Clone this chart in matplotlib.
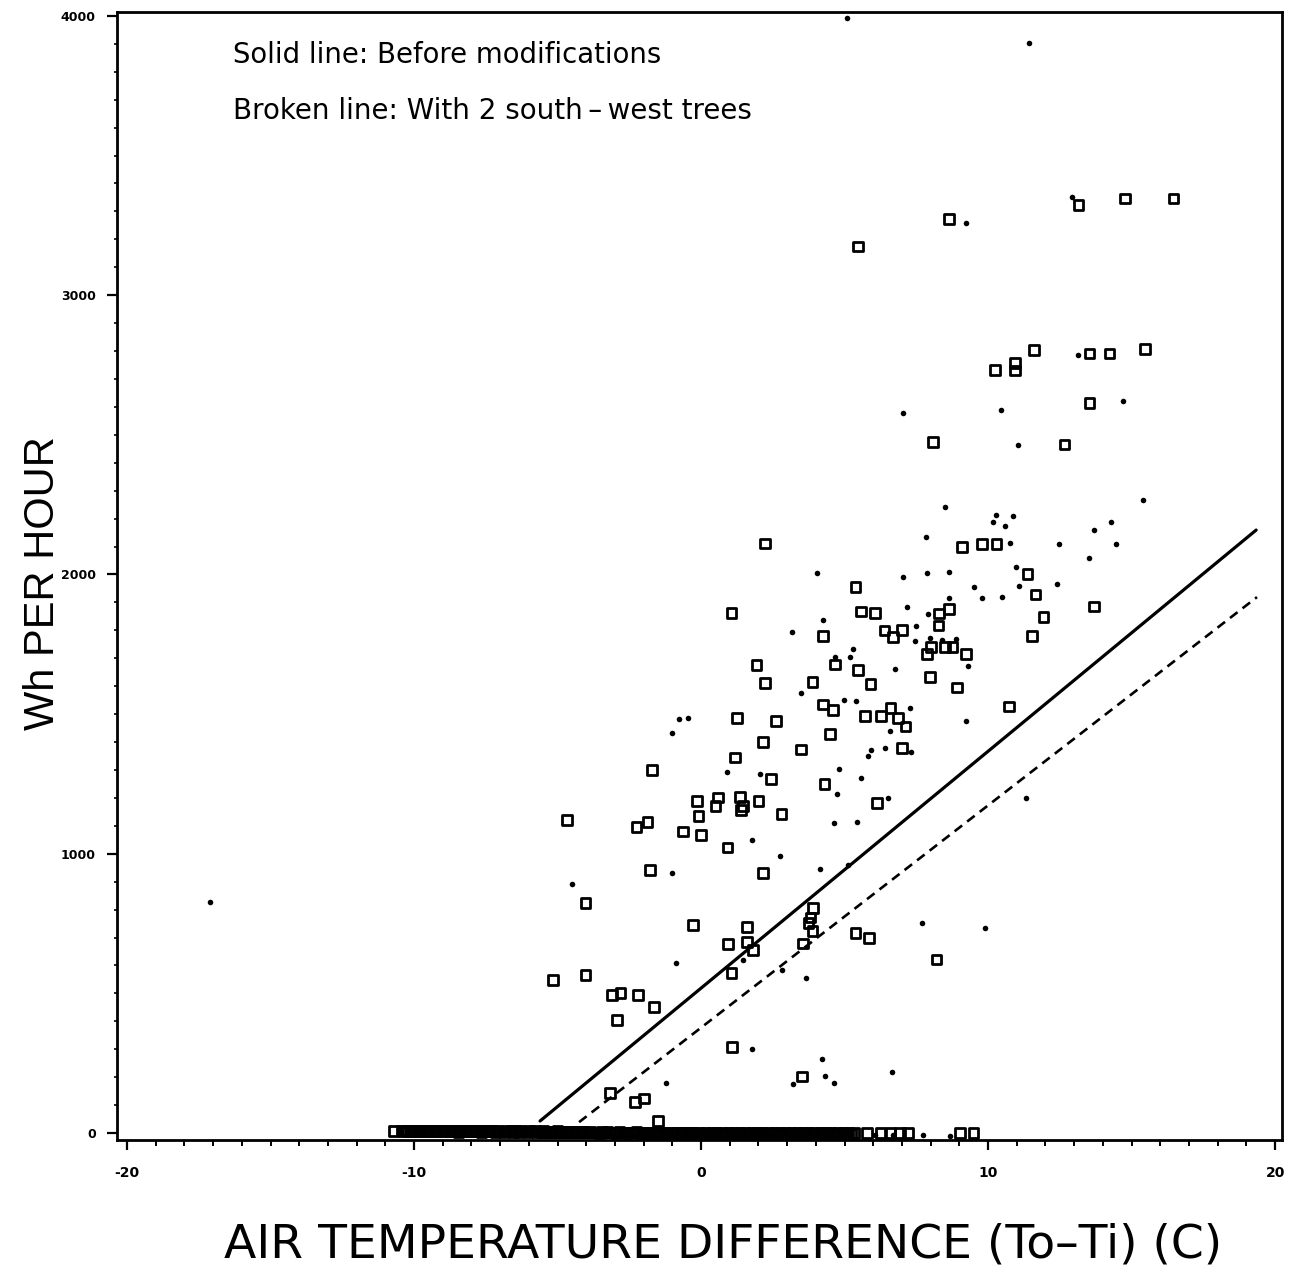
import matplotlib
matplotlib.use("Agg")
import matplotlib.pyplot as plt
from matplotlib.markers import MarkerStyle

# ---------------- data ----------------
# Open squares: before modifications
sq_x = [16.45, 14.77, 13.14, 8.64, 5.47, 15.47, 11.60, 13.52, 14.22, 10.24,
        10.94, 10.94, 13.52, 8.08, 12.65, 2.23, 9.09, 9.79, 10.28, 11.36,
        11.64, 11.92, 11.53, 13.69, 10.73,
        5.37, 1.05, 5.57, 6.06, 8.64, 8.29, 8.26, 6.38, 6.69, 7.00,
        4.25, 8.01, 7.87, 8.50, 8.75, 9.23, 1.92, 4.67, 5.47, 5.89,
        3.87, 2.23, 7.98, 8.92, 1.25, 2.61, 4.25, 4.60, 5.71, 6.27,
        6.59, 6.86, 7.11, 4.49, 2.16, 3.48, 7.00, 1.18, -1.71, 2.44,
        4.29, 6.13, -0.14, 0.59, 0.49, 1.36, 1.46, 1.39, 1.99, 2.79,
        -0.10, -4.67, -2.26, -1.88, -0.63, 0.00, 0.91, -1.78, 2.16,
        -4.04, -0.28, 1.60, 0.94, 1.60, 1.81, 1.05, 3.90, 3.80, 3.73,
        3.87, 3.55, 5.37, 5.85, 8.19, -5.16, -4.04, -3.10, -2.82, -2.20,
        -1.64, -2.93, 1.08, 3.52, -3.17, -2.30, -1.99, -1.50,
        -10.70, 5.78, 6.24, 6.59, 6.93, 7.21, 9.02, 9.48]
sq_y = [3345, 3345, 3323, 3273, 3173, 2807, 2804, 2790, 2790, 2732,
        2757, 2729, 2614, 2474, 2464, 2110, 2098, 2109, 2109, 2002,
        1927, 1848, 1780, 1884, 1526,
        1955, 1862, 1866, 1862, 1876, 1859, 1816, 1798, 1776, 1801,
        1780, 1740, 1715, 1740, 1740, 1715, 1676, 1679, 1658, 1608,
        1615, 1611, 1633, 1594, 1486, 1475, 1533, 1515, 1493, 1493,
        1522, 1486, 1457, 1429, 1400, 1372, 1379, 1346, 1300, 1268,
        1250, 1182, 1189, 1200, 1171, 1203, 1171, 1157, 1189, 1142,
        1135, 1121, 1096, 1114, 1081, 1067, 1021, 942, 931,
        824, 745, 738, 677, 684, 655, 573, 806, 773, 752,
        723, 680, 716, 698, 620, 548, 566, 494, 501, 494,
        451, 405, 308, 201, 143, 111, 125, 43,
        7, 0, 0, 0, 0, 0, 0, 0]

# Open squares piled up on the zero line (saturated black band)
band_x = [-10.45, -10.37, -10.29, -10.21, -10.13, -10.05, -9.97, -9.89, -9.81, -9.73,
          -9.65, -9.57, -9.49, -9.41, -9.33, -9.25, -9.17, -9.09, -9.01, -8.93,
          -8.85, -8.77, -8.69, -8.61, -8.53, -8.45, -8.37, -8.29, -8.21, -8.13,
          -8.05, -7.97, -7.89, -7.81, -7.73, -7.65, -7.57, -7.49, -7.41, -7.33,
          -7.25, -7.17, -7.09, -7.01, -6.93, -6.85, -6.77, -6.69, -6.61, -6.53,
          -6.45, -6.37, -6.29, -6.21, -6.13, -6.05, -5.97, -5.89, -5.81, -5.73,
          -5.65, -5.57, -5.49, -5.41, -5.33, -5.25, -5.17, -5.09, -5.01, -4.93,
          -4.85, -4.77, -4.69, -4.61, -4.53, -4.45, -4.37, -4.29, -4.21, -4.13,
          -4.05, -3.95, -3.85, -3.75, -3.65, -3.55, -3.45, -3.35, -3.25, -3.15,
          -3.05, -2.95, -2.85, -2.75, -2.65, -2.55, -2.45, -2.35, -2.25, -2.15,
          -2.05, -1.95, -1.85, -1.75, -1.65, -1.55, -1.45, -1.35, -1.25, -1.15,
          -1.05, -0.95, -0.85, -0.75, -0.65, -0.55, -0.45, -0.35, -0.25, -0.15,
          -0.05, 0.05, 0.15, 0.25, 0.35, 0.45, 0.55, 0.65, 0.75, 0.85,
          0.95, 1.05, 1.15, 1.25, 1.35, 1.45, 1.55, 1.65, 1.75, 1.85,
          1.95, 2.05, 2.15, 2.25, 2.35, 2.45, 2.55, 2.65, 2.75, 2.85,
          2.95, 3.05, 3.15, 3.25, 3.35, 3.45, 3.55, 3.65, 3.75, 3.85,
          3.95, 4.05, 4.15, 4.25, 4.35, 4.45, 4.55, 4.65, 4.75, 4.85,
          4.95, 5.05, 5.15, 5.25, 5.35]
band_y = [9, 6, 10, 7, 8, 5, 9, 7, 10, 6,
          9, 6, 10, 7, 8, 5, 9, 7, 10, 6,
          8, 5, 9, 6, 7, 4, 8, 6, 9, 5,
          8, 5, 9, 6, 7, 4, 8, 6, 9, 5,
          7, 4, 8, 5, 6, 3, 7, 5, 8, 4,
          7, 4, 8, 5, 6, 3, 7, 5, 8, 4,
          6, 3, 7, 4, 5, 2, 6, 4, 7, 3,
          5, 2, 6, 3, 4, 1, 5, 3, 6, 2,
          4, 1, 5, 2, 3, 0, 4, 2, 5, 1,
          3, 0, 4, 1, 2, -1, 3, 1, 4, 0,
          2, -1, 3, 0, 1, -2, 2, 0, 3, -1,
          2, -1, 3, 0, 1, -2, 2, 0, 3, -1,
          1, -2, 2, -1, 0, -3, 1, -1, 2, -2,
          1, -2, 2, -1, 0, -3, 1, -1, 2, -2,
          1, -2, 2, -1, 0, -3, 1, -1, 2, -2,
          1, -2, 2, -1, 0, -3, 1, -1, 2, -2,
          1, -2, 2, -1, 0, -3, 1, -1, 2, -2,
          1, -2, 2, -1, 0]

# Dots: with 2 south-west trees
dot_x = [11.43, 5.09, 12.93, 9.23, 13.14, 14.70, 7.04, 10.45, 11.05, 15.40,
         8.50, 10.28, 10.87, 10.17, 10.59, 14.29, 13.69, 7.84, 10.77, 12.47,
         14.46, 13.52, 10.98, 7.04, 7.87, 8.64, 9.51, 11.08, 12.40, 8.64,
         9.79, 10.49, 4.04, 7.18, 7.91, 4.25, 3.17, 7.49, 7.46, 7.98,
         8.40, 8.89, 5.30, 5.19, 4.67, 6.76, 9.30, 3.48, 4.98, 5.40,
         7.28, 6.59, 9.23, -0.77, -0.45, -1.01, 6.41, 5.92, 5.82, 7.32,
         0.91, 2.06, 4.81, 5.57, 4.74, 6.52, 4.63, 5.44, 1.78, 2.75,
         4.15, 5.12, -1.01, -4.49, 11.32, -17.11,
         -0.87, 1.78, 3.66, 7.70, 9.90, -1.22, 4.22, 4.32, 4.63, 3.21,
         6.66, 2.82, 1.46]
dot_y = [3903, 3993, 3352, 3259, 2786, 2621, 2578, 2589, 2464, 2267,
         2242, 2213, 2209, 2188, 2174, 2188, 2159, 2134, 2113, 2109,
         2109, 2059, 2027, 1991, 2005, 2009, 1955, 1959, 1966, 1916,
         1916, 1919, 2005, 1884, 1859, 1837, 1794, 1816, 1762, 1773,
         1765, 1769, 1733, 1705, 1705, 1662, 1672, 1576, 1551, 1547,
         1522, 1440, 1475, 1483, 1486, 1432, 1379, 1372, 1350, 1364,
         1293, 1286, 1303, 1271, 1214, 1200, 1110, 1114, 1049, 992,
         945, 960, 931, 892, 1200, 827,
         609, 301, 555, 752, 734, 179, 265, 204, 179, 175,
         218, 584, 620]

# Dots lying on the zero line
dot0_x = [-3.76, -3.07, -2.54, -2.20, -1.78, -1.32, -0.98, -0.49, -0.28, -0.10,
          0.07, 0.14, 1.53, 1.88, 2.13, 2.40, 3.21, 3.55, 3.87, 4.08,
          4.39, 4.60, 6.06, 6.69, 7.74, 8.68]
dot0_y = [14, -14, -10, -10, -14, -17, -14, -10, -10, -7,
          -7, -7, -10, -10, -10, -10, -14, -14, -14, -14,
          -14, -14, -7, -7, -7, -10]

# Fitted lines (end points)
solid_x = [-5.61, 19.34]
solid_y = [43, 2159]
broken_x = [-4.25, 19.37]
broken_y = [39, 1919]

xticks = [-20, -10, 0, 10, 20]
xtick_labels = ["-20", "-10", "0", "10", "20"]
yticks = [0, 1000, 2000, 3000, 4000]
ytick_labels = ["0", "1000", "2000", "3000", "4000"]

# ---------------- figure ----------------
W, H = 1289, 1276
fig = plt.figure(figsize=(W / 100, H / 100), dpi=100)
ax = fig.add_axes([116.7 / W, 1 - 1140 / H, (1281.7 - 116.7) / W, (1140 - 12) / H])

sq_marker = MarkerStyle('s', joinstyle='round')
ax.scatter(band_x, band_y, marker=sq_marker, s=44, facecolors='none',
           edgecolors='black', linewidths=2.0, zorder=3)
ax.scatter(sq_x, sq_y, marker=sq_marker, s=44, facecolors='none',
           edgecolors='black', linewidths=2.0, zorder=3)
ax.scatter(dot_x, dot_y, marker='o', s=16, color='black', linewidths=0, zorder=3)
ax.scatter(dot0_x, dot0_y, marker='o', s=16, color='black', linewidths=0, zorder=3)

ax.plot(solid_x, solid_y, color='black', lw=2.3, solid_capstyle='round', zorder=2)
ax.plot(broken_x, broken_y, color='black', lw=1.9, dashes=(3.6, 2.4), zorder=2)

ax.set_xlim(-20.36, 20.23)
ax.set_ylim(-25, 4014)

ax.set_xticks(xticks)
ax.set_xticklabels(xtick_labels, fontsize=10, fontweight='bold', family='DejaVu Sans')
ax.set_yticks(yticks)
ax.set_yticklabels(ytick_labels, fontsize=9, fontweight='bold', family='DejaVu Sans')
ax.set_xticks(range(-20, 21), minor=True)
ax.set_yticks(range(0, 4001, 100), minor=True)
ax.tick_params(axis='both', which='major', direction='out', length=7, width=1.6,
               colors='black')
ax.tick_params(axis='x', which='major', pad=12)
ax.tick_params(axis='y', which='major', pad=8)
ax.tick_params(axis='x', which='minor', direction='out', length=4, width=1.4)
ax.tick_params(axis='y', which='minor', direction='out', length=2, width=1.2)

for sp in ax.spines.values():
    sp.set_linewidth(2.0)
    sp.set_color('black')

ax.text(0.0998, 0.962, "Solid line: Before modifications", transform=ax.transAxes,
        fontsize=19.8, family='DejaVu Sans', va='center', ha='left')
ax.text(0.0998, 0.912, "Broken line: With 2 south\u2009\u2013\u2009west trees",
        transform=ax.transAxes, fontsize=20, family='DejaVu Sans',
        va='center', ha='left')

fig.text(43 / W, 1 - 583 / H, "Wh PER HOUR", rotation=90, fontsize=30,
         family='Liberation Sans', ha='center', va='center')
fig.text(723 / W, 1 - 1245 / H, "AIR TEMPERATURE DIFFERENCE (To\u2013Ti) (C)",
         fontsize=34, family='DejaVu Sans', ha='center', va='center')

fig.savefig("out.png", dpi=100, facecolor='white')
